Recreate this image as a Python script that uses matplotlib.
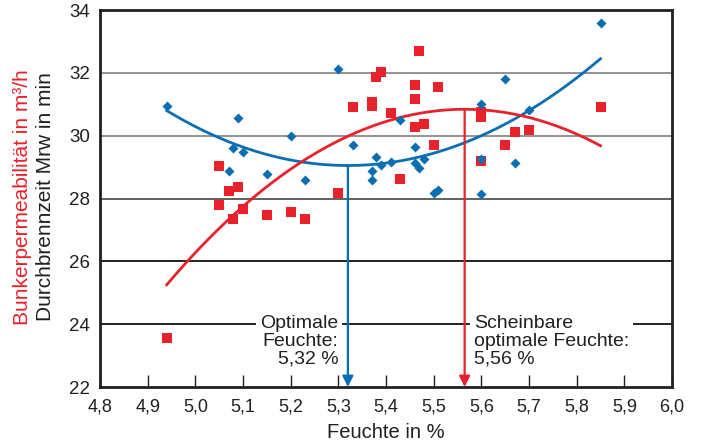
import matplotlib
matplotlib.use("Agg")
import matplotlib.pyplot as plt
import numpy as np

plt.rcParams['font.family'] = ['Liberation Sans', 'DejaVu Sans']

# Bunkerpermeabilität (red squares)
red_x = [4.94, 5.05, 5.05, 5.07, 5.08, 5.09, 5.10, 5.15, 5.20, 5.23, 5.30, 5.33,
         5.37, 5.37, 5.38, 5.39, 5.41, 5.43, 5.46, 5.46, 5.46, 5.47, 5.48, 5.50,
         5.51, 5.60, 5.60, 5.60, 5.65, 5.67, 5.70, 5.85]
red_y = [23.56, 29.05, 27.79, 28.24, 27.34, 28.38, 27.68, 27.48, 27.58, 27.34, 28.19, 30.90,
         31.07, 30.96, 31.86, 32.02, 30.73, 28.62, 31.62, 31.16, 30.29, 32.68, 30.36, 29.69,
         31.54, 30.75, 30.59, 29.19, 29.69, 30.11, 30.19, 30.90]

# Durchbrennzeit (blue diamonds)
blue_x = [4.94, 5.07, 5.08, 5.09, 5.10, 5.15, 5.20, 5.23, 5.30, 5.33, 5.37, 5.37,
          5.38, 5.39, 5.41, 5.43, 5.46, 5.46, 5.47, 5.48, 5.50, 5.51, 5.60, 5.60,
          5.60, 5.65, 5.67, 5.70, 5.85]
blue_y = [30.93, 28.86, 29.62, 30.56, 29.48, 28.78, 29.99, 28.58, 32.12, 29.69, 28.89, 28.58,
          29.33, 29.07, 29.17, 30.50, 29.65, 29.14, 28.98, 29.27, 28.19, 28.27, 31.00, 29.25,
          28.15, 31.81, 29.14, 30.81, 33.60]

# Quadratic trend lines (vertex x, vertex y, curvature)
blue_trend = (5.32, 29.05, 12.1)
red_trend = (5.565, 30.84, -14.3)
trend_range = (4.94, 5.85)

x_ticks = [4.8, 4.9, 5.0, 5.1, 5.2, 5.3, 5.4, 5.5, 5.6, 5.7, 5.8, 5.9, 6.0]
y_ticks = [22, 24, 26, 28, 30, 32, 34]

RED = '#e8222b'
BLUE = '#0a6fb2'
DARK = '#231f20'

fig = plt.figure(figsize=(7.01, 4.44), dpi=100)
ax = fig.add_axes([100/701, 1-387/444, 572/701, 377/444])
ax.set_xlim(4.8, 6.0)
ax.set_ylim(22, 34)

grid_colors = {24: '#111111', 26: '#111111', 28: '#555555', 30: '#8a8a8a', 32: '#8a8a8a'}
for v, c in grid_colors.items():
    ax.axhline(v, color=c, lw=1.3, zorder=1)

xs = np.linspace(*trend_range, 200)
bx0, by0, ba = blue_trend
rx0, ry0, ra = red_trend
ax.plot(xs, by0 + ba*(xs-bx0)**2, color=BLUE, lw=2, zorder=3)
ax.plot(xs, ry0 + ra*(xs-rx0)**2, color=RED, lw=2, zorder=3)

ax.scatter(red_x, red_y, marker='s', s=52, color=RED, linewidths=0, zorder=4)
ax.scatter(blue_x, blue_y, marker='D', s=26, color=BLUE, linewidths=0, zorder=5)

# arrows to optimum
ax.annotate('', xy=(bx0, 22), xytext=(bx0, by0),
            arrowprops=dict(arrowstyle='-|>', color=BLUE, lw=1.6, mutation_scale=16,
                            shrinkA=0, shrinkB=0), zorder=6)
ax.annotate('', xy=(rx0, 22), xytext=(rx0, ry0),
            arrowprops=dict(arrowstyle='-|>', color=RED, lw=1.6, mutation_scale=16,
                            shrinkA=0, shrinkB=0), zorder=6)

ax.text(5.3, 24.3, 'Optimale\nFeuchte:\n5,32 %', ha='right', va='top', fontsize=14,
        color=DARK, linespacing=1.06, zorder=7,
        bbox=dict(boxstyle='square,pad=0.2', fc='white', ec='none'))
ax.text(5.585, 24.3, 'Scheinbare\noptimale Feuchte:\n5,56 %', ha='left', va='top', fontsize=14,
        color=DARK, linespacing=1.06, zorder=7,
        bbox=dict(boxstyle='square,pad=0.2', fc='white', ec='none'))

ax.set_xticks(x_ticks)
ax.set_xticklabels([f'{t:.1f}'.replace('.', ',') for t in x_ticks])
ax.set_yticks(y_ticks)
ax.set_yticklabels([str(t) for t in y_ticks])
ax.tick_params(axis='x', direction='in', length=9, width=1, color=DARK,
               labelsize=13, labelcolor=DARK, pad=8, top=False)
ax.tick_params(axis='y', length=0, labelsize=13.5, labelcolor=DARK, pad=7)

for s in ax.spines.values():
    s.set_color(DARK)
    s.set_linewidth(2)

ax.set_xlabel('Feuchte in %', fontsize=14.5, color=DARK, labelpad=6)
fig.text(23/701, 1-197/444, 'Bunkerpermeabilität in m³/h', rotation=90, ha='center', va='center',
         fontsize=15, color=RED)
fig.text(46/701, 1-197/444, 'Durchbrennzeit Mrw in min', rotation=90, ha='center', va='center',
         fontsize=15, color=DARK)

fig.savefig('out.png', dpi=100)
